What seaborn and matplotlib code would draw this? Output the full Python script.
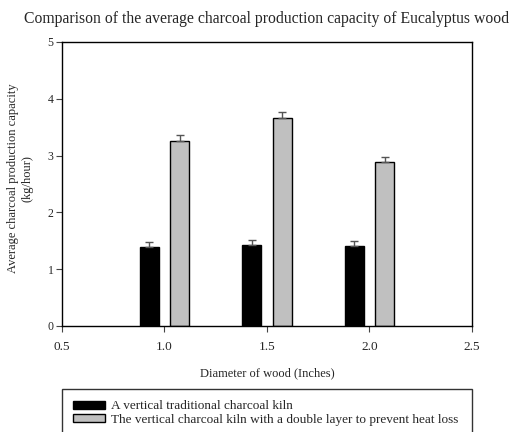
import matplotlib
matplotlib.use("Agg")
import matplotlib.pyplot as plt
import seaborn as sns
import pandas as pd

# ---- data ----
diameters = [1.0, 1.5, 2.0]
kiln_labels = ["A vertical traditional charcoal kiln",
               "The vertical charcoal kiln with a double layer to prevent heat loss"]
traditional = [1.39, 1.42, 1.41]
traditional_err = [0.09, 0.10, 0.09]
double_layer = [3.26, 3.67, 2.88]
double_layer_err = [0.11, 0.10, 0.10]
x_ticks = [0.5, 1.0, 1.5, 2.0, 2.5]
y_ticks = [0, 1, 2, 3, 4, 5]

df = pd.DataFrame({
    "diameter": diameters * 2,
    "capacity": traditional + double_layer,
    "err": traditional_err + double_layer_err,
    "kiln": [kiln_labels[0]] * 3 + [kiln_labels[1]] * 3,
})

sns.set_style("ticks")
plt.rcParams["font.family"] = ["Liberation Serif", "DejaVu Serif"]

fig = plt.figure(figsize=(5.10, 4.32), dpi=100)
ax = fig.add_axes([62 / 510, 1 - 326 / 432, 410 / 510, 284 / 432])

sns.barplot(data=df, x="diameter", y="capacity", hue="kiln",
            hue_order=kiln_labels, native_scale=True,
            palette=["black", "#c0c0c0"], edgecolor="black", linewidth=1.0,
            width=0.6, gap=0.38, errorbar=None, legend=False, ax=ax)

errs = [traditional_err, double_layer_err]
for cont, e in zip(ax.containers, errs):
    xs = [p.get_x() + p.get_width() / 2 for p in cont.patches]
    ys = [p.get_height() for p in cont.patches]
    ax.errorbar(xs, ys, yerr=[[0] * len(e), e], fmt="none",
                ecolor="#555555", elinewidth=1.0, capsize=3, capthick=1.0)

ax.set_xlim(0.5, 2.5)
ax.set_ylim(0, 5)
ax.set_xticks(x_ticks)
ax.set_xticklabels([f"{v:.1f}" for v in x_ticks], fontsize=9.5)
ax.set_yticks(y_ticks)
ax.set_yticklabels([str(v) for v in y_ticks], fontsize=8.5)
ax.tick_params(axis="both", direction="out", length=4, width=0.8, color="#444444")
ax.tick_params(axis="x", pad=7)
ax.tick_params(axis="y", pad=2)
for s in ax.spines.values():
    s.set_visible(True)
    s.set_linewidth(1.0)
    s.set_color("black")

ax.set_xlabel("Diameter of wood (Inches)", fontsize=9, labelpad=10)
ax.set_ylabel("Average charcoal production capacity\n(kg/hour)", fontsize=9,
              linespacing=1.25)
ax.yaxis.set_label_coords(-0.07, 0.52)
ax.set_title("Comparison of the average charcoal production capacity of Eucalyptus wood",
             fontsize=11.3, pad=14)

leg = ax.legend(ax.containers, kiln_labels, loc="upper left",
                bbox_to_anchor=(0, -0.222, 1, 0), mode="expand",
                fontsize=9.5, frameon=True, fancybox=False, edgecolor="black",
                handlelength=2.4, handleheight=0.55, handletextpad=0.5,
                labelspacing=0.1, borderpad=0.85, borderaxespad=0)
leg.get_frame().set_linewidth(1.0)

fig.savefig("out.png", dpi=100)
